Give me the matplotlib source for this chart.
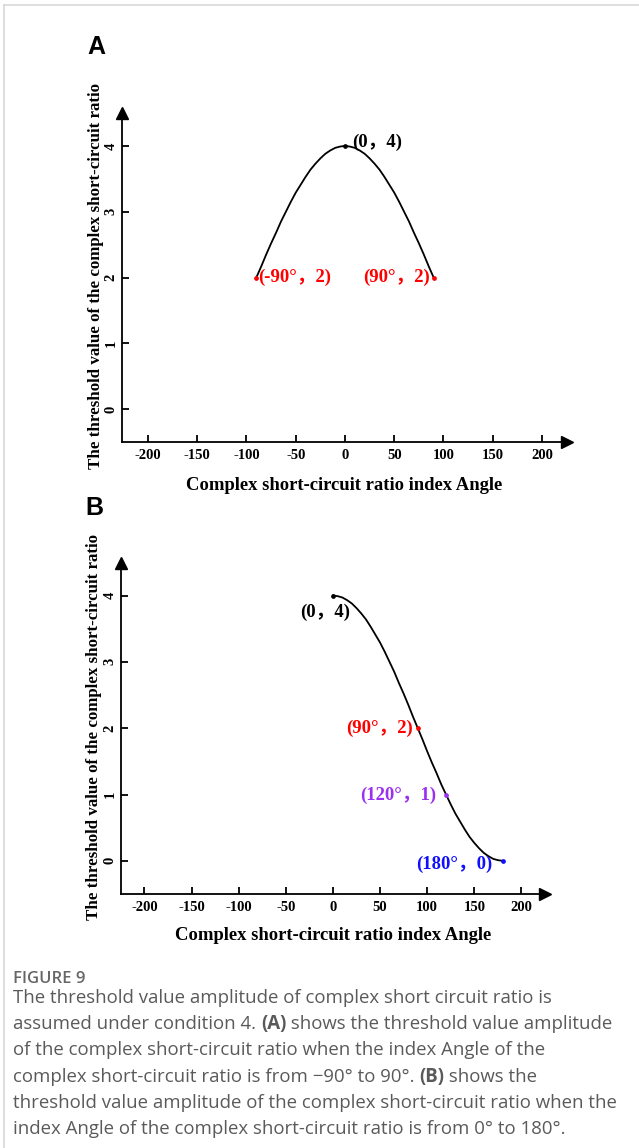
import numpy as np
import matplotlib
matplotlib.use("Agg")
import matplotlib.pyplot as plt

# curve values (panel A: -90..90 deg, panel B: 0..180 deg)
angle_a = [-90, -85, -80, -75, -70, -65, -60, -55, -50, -45, -40, -35, -30, -25, -20, -15, -10, -5, 0,
           5, 10, 15, 20, 25, 30, 35, 40, 45, 50, 55, 60, 65, 70, 75, 80, 85, 90]
thr_a = [2.00, 2.17, 2.35, 2.52, 2.68, 2.85, 3.00, 3.15, 3.29, 3.41, 3.53, 3.64, 3.73, 3.81, 3.88, 3.93, 3.97, 3.99, 4.00,
         3.99, 3.97, 3.93, 3.88, 3.81, 3.73, 3.64, 3.53, 3.41, 3.29, 3.15, 3.00, 2.85, 2.68, 2.52, 2.35, 2.17, 2.00]

angle_b = [0, 5, 10, 15, 20, 25, 30, 35, 40, 45, 50, 55, 60, 65, 70, 75, 80, 85, 90,
           95, 100, 105, 110, 115, 120, 125, 130, 135, 140, 145, 150, 155, 160, 165, 170, 175, 180]
thr_b = [4.00, 3.99, 3.97, 3.93, 3.88, 3.81, 3.73, 3.64, 3.53, 3.41, 3.29, 3.15, 3.00, 2.85, 2.68, 2.52, 2.35, 2.17, 2.00,
         1.83, 1.65, 1.48, 1.32, 1.15, 1.00, 0.85, 0.71, 0.59, 0.47, 0.36, 0.27, 0.19, 0.12, 0.07, 0.03, 0.01, 0.00]

# marked points
pts_a = [(0, 4), (-90, 2), (90, 2)]
lbl_a = ["(0，4)", "(-90°，2)", "(90°，2)"]
pts_b = [(0, 4), (90, 2), (120, 1), (180, 0)]
lbl_b = ["(0，4)", "(90°，2)", "(120°，1)", "(180°，0)"]

xticks = [-200, -150, -100, -50, 0, 50, 100, 150, 200]
yticks = [0, 1, 2, 3, 4]

c = {"black": "black", "red": "#ff0000", "purple": "#9a30f0", "blue": "#1010ff"}
serif = ["Liberation Serif", "Noto Sans CJK SC"]

W, H = 639, 1148
fig = plt.figure(figsize=(W / 100, H / 100), dpi=100)


def px_axes(left, top, right, bottom):
    return fig.add_axes([left / W, 1 - bottom / H, (right - left) / W, (bottom - top) / H])


def style_axes(ax, xlim, ylim, ylab_x, xlab_y):
    ax.set_xlim(xlim)
    ax.set_ylim(ylim)
    for s in ["top", "right"]:
        ax.spines[s].set_visible(False)
    for s in ["left", "bottom"]:
        ax.spines[s].set_linewidth(1.3)
    ax.set_xticks(xticks)
    ax.set_xticklabels([str(v) for v in xticks])
    ax.set_yticks(yticks)
    ax.set_yticklabels([str(v) for v in yticks])
    ax.tick_params(axis="x", direction="in", length=5, width=1.3, pad=5)
    ax.tick_params(axis="y", direction="in", length=5, width=1.3, pad=3)
    for lab in ax.get_xticklabels() + ax.get_yticklabels():
        lab.set_fontfamily(serif)
        lab.set_fontweight("bold")
        lab.set_fontsize(10.5)
    for lab in ax.get_yticklabels():
        lab.set_rotation(90)
        lab.set_va("center")
    ax.plot(1, 0, ">k", markersize=8, transform=ax.transAxes, clip_on=False)
    ax.plot(0, 1, "^k", markersize=8, transform=ax.transAxes, clip_on=False)
    ax.set_ylabel("The threshold value of the complex short-circuit ratio",
                  family=serif, fontweight="bold", fontsize=12.2)
    ax.yaxis.set_label_coords(ylab_x, 0.505)
    ax.set_xlabel("Complex short-circuit ratio index Angle",
                  family=serif, fontweight="bold", fontsize=13.4)
    ax.xaxis.set_label_coords(0.5, xlab_y)


# panel A
axA = px_axes(122, 113, 567, 442)
style_axes(axA, (-226.4, 225.4), (-0.5, 4.5), -0.040, -0.105)
axA.plot(angle_a, thr_a, color="black", linewidth=1.3)
cols_a = [c["black"], c["red"], c["red"]]
for (x, y), col in zip(pts_a, cols_a):
    axA.plot(x, y, "o", color=col, markersize=2.4)
axA.text(7, 4.06, lbl_a[0], color=cols_a[0], family=serif, fontweight="bold", fontsize=13.5, ha="left", va="center")
axA.text(-88, 2.0, lbl_a[1], color=cols_a[1], family=serif, fontweight="bold", fontsize=13.5, ha="left", va="center")
axA.text(86, 2.0, lbl_a[2], color=cols_a[2], family=serif, fontweight="bold", fontsize=13.5, ha="right", va="center")

# panel B
axB = px_axes(121, 563, 545, 894)
style_axes(axB, (-224.9, 225.0), (-0.5, 4.49), -0.045, -0.10)
axB.plot(angle_b, thr_b, color="black", linewidth=1.3)
cols_b = [c["black"], c["red"], c["purple"], c["blue"]]
offs_b = [(18, 3.75), (85, 2.0), (110, 0.99), (169, -0.05)]
for (x, y), col, (tx, ty), lab in zip(pts_b, cols_b, offs_b, lbl_b):
    axB.plot(x, y, "o", color=col, markersize=2.4)
    axB.text(tx, ty, lab, color=col, family=serif, fontweight="bold", fontsize=13.5, ha="right", va="center")

# panel letters
fig.text(96 / W, 1 - 47 / H, "A", fontsize=18, fontweight="bold", family="Liberation Sans", ha="center", va="center")
fig.text(94 / W, 1 - 508 / H, "B", fontsize=18, fontweight="bold", family="Liberation Sans", ha="center", va="center")

# frame lines of the page
fig.add_artist(plt.Line2D([4 / W, 4 / W], [0, 1 - 5 / H], color="#d8d8d8", linewidth=1.2))
fig.add_artist(plt.Line2D([4 / W, 1], [1 - 5 / H, 1 - 5 / H], color="#d8d8d8", linewidth=1.2))

# caption
cap_col = "#5a5a5a"
fig.text(13 / W, 1 - 979 / H, "FIGURE 9", fontsize=12, family="Open Sans", fontweight="semibold",
         color="#666666", ha="left", va="center")
lines = [
    [("The threshold value amplitude of complex short circuit ratio is", False)],
    [("assumed under condition 4. ", False), ("(A)", True), (" shows the threshold value amplitude", False)],
    [("of the complex short-circuit ratio when the index Angle of the", False)],
    [("complex short-circuit ratio is from \u221290° to 90°. ", False), ("(B)", True), (" shows the", False)],
    [("threshold value amplitude of the complex short-circuit ratio when the", False)],
    [("index Angle of the complex short-circuit ratio is from 0° to 180°.", False)],
]
renderer = fig.canvas.get_renderer()
y0 = 998
for i, parts in enumerate(lines):
    x = 13
    for txt, bold in parts:
        t = fig.text(x / W, 1 - (y0 + i * 26.2) / H, txt, fontsize=13.4, family="Open Sans",
                     fontweight="bold" if bold else "normal", color=cap_col, ha="left", va="center")
        x += t.get_window_extent(renderer).width

fig.savefig("out.png", dpi=100)
